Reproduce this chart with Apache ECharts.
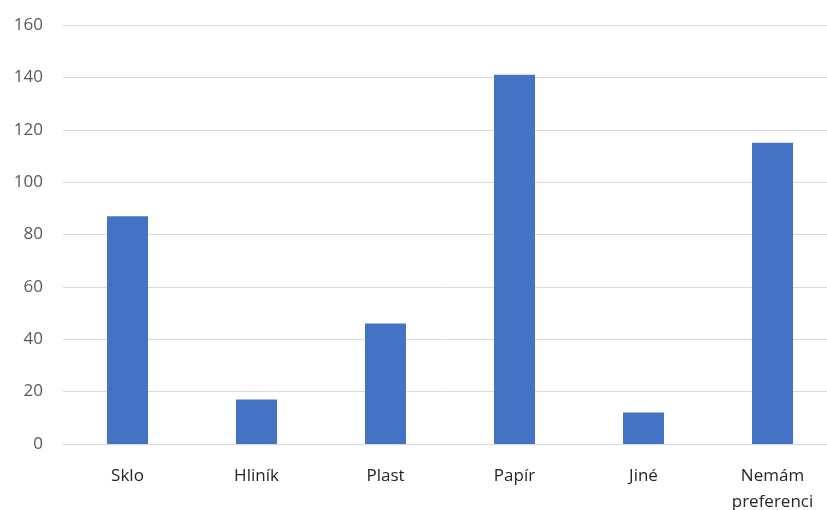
<!DOCTYPE html>
<html>
<head>
<meta charset="utf-8">
<script src="https://cdn.jsdelivr.net/npm/echarts@6/dist/echarts.min.js"></script>
<style>
    html, body { margin: 0; padding: 0; background: #fff; }
    #chart { width: 827px; height: 510px; }
</style>
</head>
<body>
<div id="chart"></div>
<script>
    // kategorie a hodnoty
    var categories = ['Sklo', 'Hliník', 'Plast', 'Papír', 'Jiné', 'Nemám\npreferenci'];
    var values = [87, 17, 46, 141, 12, 115];
    var yTicks = [0, 20, 40, 60, 80, 100, 120, 140, 160];

    var chart = echarts.init(document.getElementById('chart'));
    chart.setOption({
        animation: false,
        grid: {
            left: 63,
            top: 25,
            width: 774,
            height: 419,
            containLabel: false,
            outerBoundsMode: 'none'
        },
        xAxis: {
            type: 'category',
            data: categories,
            axisLine: { show: true, lineStyle: { color: '#d9d9d9', width: 1 } },
            axisTick: { show: false },
            axisLabel: {
                color: '#262626',
                fontFamily: 'Open Sans',
                fontSize: 17,
                margin: 19,
                lineHeight: 26,
                interval: 0
            }
        },
        yAxis: {
            type: 'value',
            min: yTicks[0],
            max: yTicks[yTicks.length - 1],
            interval: 20,
            axisLine: { show: false },
            axisTick: { show: false },
            axisLabel: {
                color: '#595959',
                fontFamily: 'Open Sans',
                fontSize: 17,
                margin: 20
            },
            splitLine: { lineStyle: { color: '#d9d9d9', width: 1 } }
        },
        series: [
            {
                type: 'bar',
                data: values,
                barWidth: 41,
                itemStyle: { color: '#4472c4' }
            }
        ]
    });
</script>
</body>
</html>
